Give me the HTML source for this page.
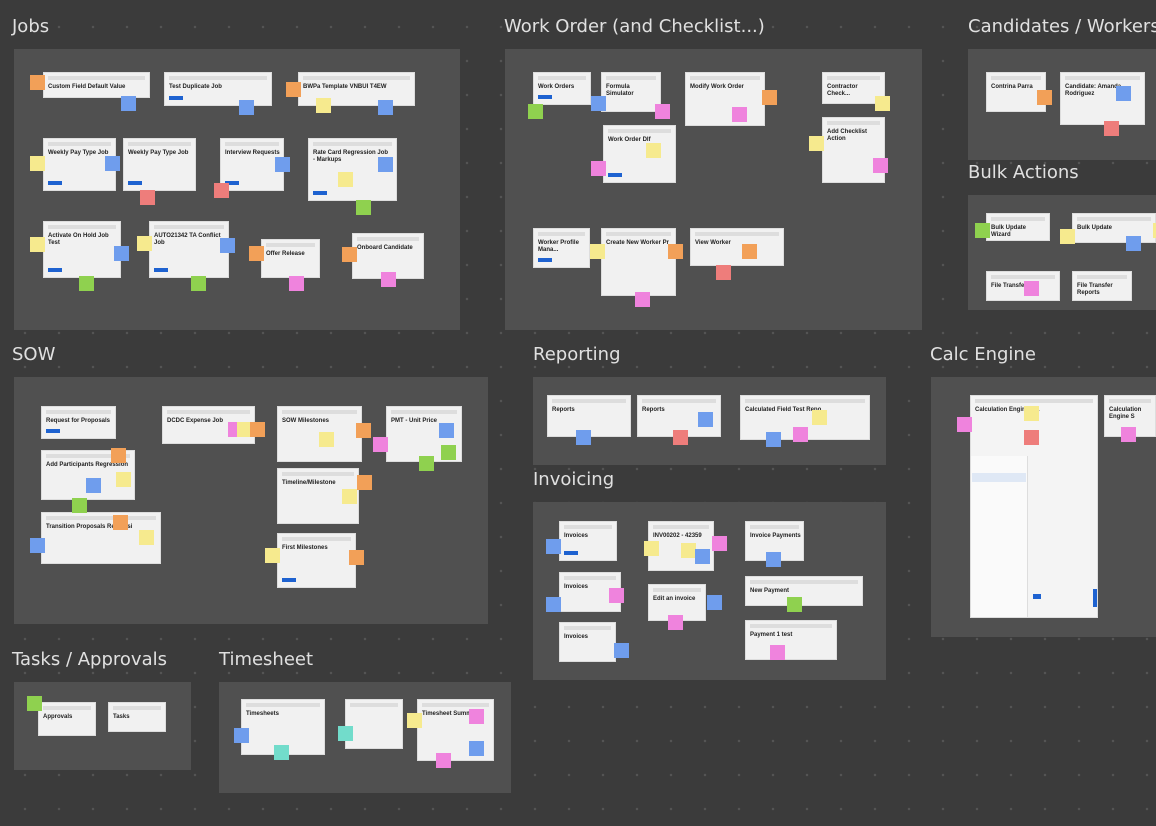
<!DOCTYPE html>
<html><head><meta charset="utf-8"><style>
body{margin:0;width:1156px;height:826px;overflow:hidden;background:#3b3b3b;
background-image:radial-gradient(circle,#555 1px,transparent 1.5px);background-size:34px 34px;background-position:8px 10px;
font-family:"Liberation Sans",sans-serif;position:relative}
.p{position:absolute;background:#505050}
.t{position:absolute;color:#e0e0e0;font-size:18px;font-family:"DejaVu Sans","Liberation Sans",sans-serif;white-space:nowrap}
.c{position:absolute;background:#f1f1f1;overflow:hidden;border:1px solid #ddd;box-sizing:border-box}
.c:before{content:"";position:absolute;left:4px;right:4px;top:3px;height:4px;background:#ddd}
.c b{position:absolute;left:4px;top:11px;font-size:6px;color:#222;line-height:7px;width:90%}
.c i{position:absolute;left:4px;bottom:5px;width:14px;height:4px;background:#1e62d0}
.n{position:absolute;width:15px;height:15px}
.o{background:#f2a058}.b{background:#6f9ded}.y{background:#f6ea8e}.k{background:#ef83dd}.g{background:#8fd14f}.r{background:#ee7d7b}.q{background:#72dccb}
</style></head><body>
<div class="t" style="left:12px;top:16px">Jobs</div>
<div class="t" style="left:504px;top:16px">Work Order (and Checklist...)</div>
<div class="t" style="left:968px;top:16px">Candidates / Workers</div>
<div class="t" style="left:968px;top:162px">Bulk Actions</div>
<div class="t" style="left:12px;top:344px">SOW</div>
<div class="t" style="left:533px;top:344px">Reporting</div>
<div class="t" style="left:533px;top:469px">Invoicing</div>
<div class="t" style="left:930px;top:344px">Calc Engine</div>
<div class="t" style="left:12px;top:649px">Tasks / Approvals</div>
<div class="t" style="left:219px;top:649px">Timesheet</div>

<div class="p" style="left:14px;top:49px;width:446px;height:281px"></div>
<div class="p" style="left:505px;top:49px;width:417px;height:281px"></div>
<div class="p" style="left:968px;top:49px;width:188px;height:111px"></div>
<div class="p" style="left:968px;top:195px;width:188px;height:115px"></div>
<div class="p" style="left:14px;top:377px;width:474px;height:247px"></div>
<div class="p" style="left:533px;top:377px;width:353px;height:88px"></div>
<div class="p" style="left:533px;top:502px;width:353px;height:178px"></div>
<div class="p" style="left:931px;top:377px;width:225px;height:260px"></div>
<div class="p" style="left:14px;top:682px;width:177px;height:88px"></div>
<div class="p" style="left:219px;top:682px;width:292px;height:111px"></div>

<!-- Jobs cards -->
<div class="c" style="left:43px;top:72px;width:107px;height:26px"><b>Custom Field Default Value</b></div>
<div class="c" style="left:164px;top:72px;width:108px;height:34px"><b>Test Duplicate Job</b><i></i></div>
<div class="c" style="left:298px;top:72px;width:117px;height:34px"><b>BWPa Template VNBUI T4EW</b></div>
<div class="c" style="left:43px;top:138px;width:73px;height:53px"><b>Weekly Pay Type Job</b><i></i></div>
<div class="c" style="left:123px;top:138px;width:73px;height:53px"><b>Weekly Pay Type Job</b><i></i></div>
<div class="c" style="left:220px;top:138px;width:64px;height:53px"><b>Interview Requests</b><i></i></div>
<div class="c" style="left:308px;top:138px;width:89px;height:63px"><b>Rate Card Regression Job - Markups</b><i></i></div>
<div class="c" style="left:43px;top:221px;width:78px;height:57px"><b>Activate On Hold Job Test</b><i></i></div>
<div class="c" style="left:149px;top:221px;width:80px;height:57px"><b>AUTO21342 TA Conflict Job</b><i></i></div>
<div class="c" style="left:261px;top:239px;width:59px;height:39px"><b>Offer Release</b></div>
<div class="c" style="left:352px;top:233px;width:72px;height:46px"><b>Onboard Candidate</b></div>
<div class="n o" style="left:30px;top:75px"></div><div class="n b" style="left:121px;top:96px"></div><div class="n b" style="left:239px;top:100px"></div><div class="n o" style="left:286px;top:82px"></div><div class="n y" style="left:316px;top:98px"></div><div class="n b" style="left:378px;top:100px"></div>
<div class="n y" style="left:30px;top:156px"></div><div class="n b" style="left:105px;top:156px"></div><div class="n r" style="left:140px;top:190px"></div><div class="n r" style="left:214px;top:183px"></div><div class="n b" style="left:275px;top:157px"></div><div class="n b" style="left:378px;top:157px"></div><div class="n y" style="left:338px;top:172px"></div><div class="n g" style="left:356px;top:200px"></div>
<div class="n y" style="left:30px;top:237px"></div><div class="n b" style="left:114px;top:246px"></div><div class="n g" style="left:79px;top:276px"></div><div class="n y" style="left:137px;top:236px"></div><div class="n b" style="left:220px;top:238px"></div><div class="n g" style="left:191px;top:276px"></div><div class="n o" style="left:249px;top:246px"></div><div class="n k" style="left:289px;top:276px"></div><div class="n o" style="left:342px;top:247px"></div><div class="n k" style="left:381px;top:272px"></div>

<!-- Work order -->
<div class="c" style="left:533px;top:72px;width:58px;height:33px"><b>Work Orders</b><i></i></div>
<div class="c" style="left:601px;top:72px;width:60px;height:40px"><b>Formula Simulator</b></div>
<div class="c" style="left:685px;top:72px;width:80px;height:54px"><b>Modify Work Order</b></div>
<div class="c" style="left:822px;top:72px;width:63px;height:32px"><b>Contractor Check...</b></div>
<div class="c" style="left:603px;top:125px;width:73px;height:58px"><b>Work Order Dlf</b><i></i></div>
<div class="c" style="left:822px;top:117px;width:63px;height:66px"><b>Add Checklist Action</b></div>
<div class="c" style="left:533px;top:228px;width:57px;height:40px"><b>Worker Profile Mana...</b><i></i></div>
<div class="c" style="left:601px;top:228px;width:75px;height:68px"><b>Create New Worker Pr</b></div>
<div class="c" style="left:690px;top:228px;width:94px;height:38px"><b>View Worker</b></div>
<div class="n g" style="left:528px;top:104px"></div><div class="n b" style="left:591px;top:96px"></div><div class="n k" style="left:655px;top:104px"></div><div class="n o" style="left:762px;top:90px"></div><div class="n k" style="left:732px;top:107px"></div><div class="n y" style="left:875px;top:96px"></div>
<div class="n y" style="left:646px;top:143px"></div><div class="n k" style="left:591px;top:161px"></div><div class="n y" style="left:809px;top:136px"></div><div class="n k" style="left:873px;top:158px"></div>
<div class="n y" style="left:590px;top:244px"></div><div class="n o" style="left:668px;top:244px"></div><div class="n k" style="left:635px;top:292px"></div><div class="n o" style="left:742px;top:244px"></div><div class="n r" style="left:716px;top:265px"></div>

<!-- Candidates / Bulk -->
<div class="c" style="left:986px;top:72px;width:60px;height:40px"><b>Contrina Parra</b></div>
<div class="c" style="left:1060px;top:72px;width:85px;height:53px"><b>Candidate: Amanda Rodriguez</b></div>
<div class="n o" style="left:1037px;top:90px"></div><div class="n b" style="left:1116px;top:86px"></div><div class="n r" style="left:1104px;top:121px"></div>
<div class="c" style="left:986px;top:213px;width:64px;height:28px"><b>Bulk Update Wizard</b></div>
<div class="c" style="left:1072px;top:213px;width:84px;height:30px"><b>Bulk Update</b></div>
<div class="c" style="left:986px;top:271px;width:74px;height:30px"><b>File Transfer Re</b></div>
<div class="c" style="left:1072px;top:271px;width:60px;height:30px"><b>File Transfer Reports</b></div>
<div class="n g" style="left:975px;top:223px"></div><div class="n y" style="left:1060px;top:229px"></div><div class="n b" style="left:1126px;top:236px"></div><div class="n y" style="left:1153px;top:223px"></div><div class="n k" style="left:1024px;top:281px"></div>

<!-- SOW -->
<div class="c" style="left:41px;top:406px;width:75px;height:33px"><b>Request for Proposals</b><i></i></div>
<div class="c" style="left:162px;top:406px;width:93px;height:38px"><b>DCDC Expense Job</b></div>
<div class="c" style="left:277px;top:406px;width:85px;height:56px"><b>SOW Milestones</b></div>
<div class="c" style="left:386px;top:406px;width:76px;height:56px"><b>PMT - Unit Price</b></div>
<div class="c" style="left:41px;top:450px;width:94px;height:50px"><b>Add Participants Regression</b></div>
<div class="c" style="left:277px;top:468px;width:82px;height:56px"><b>Timeline/Milestone</b></div>
<div class="c" style="left:41px;top:512px;width:120px;height:52px"><b>Transition Proposals Regressi</b></div>
<div class="c" style="left:277px;top:533px;width:79px;height:55px"><b>First Milestones</b><i></i></div>
<div class="n k" style="left:228px;top:422px"></div><div class="n y" style="left:237px;top:422px"></div><div class="n o" style="left:250px;top:422px"></div><div class="n y" style="left:319px;top:432px"></div><div class="n o" style="left:356px;top:423px"></div><div class="n k" style="left:373px;top:437px"></div><div class="n b" style="left:439px;top:423px"></div><div class="n g" style="left:419px;top:456px"></div><div class="n g" style="left:441px;top:445px"></div>
<div class="n o" style="left:111px;top:448px"></div><div class="n y" style="left:116px;top:472px"></div><div class="n b" style="left:86px;top:478px"></div><div class="n g" style="left:72px;top:498px"></div>
<div class="n o" style="left:357px;top:475px"></div><div class="n y" style="left:342px;top:489px"></div>
<div class="n o" style="left:113px;top:515px"></div><div class="n y" style="left:139px;top:530px"></div><div class="n b" style="left:30px;top:538px"></div>
<div class="n y" style="left:265px;top:548px"></div><div class="n o" style="left:349px;top:550px"></div>

<!-- Reporting -->
<div class="c" style="left:547px;top:395px;width:84px;height:42px"><b>Reports</b></div>
<div class="c" style="left:637px;top:395px;width:84px;height:42px"><b>Reports</b></div>
<div class="c" style="left:740px;top:395px;width:130px;height:45px"><b>Calculated Field Test Repo</b></div>
<div class="n b" style="left:576px;top:430px"></div><div class="n r" style="left:673px;top:430px"></div><div class="n b" style="left:698px;top:412px"></div><div class="n y" style="left:812px;top:410px"></div><div class="n b" style="left:766px;top:432px"></div><div class="n k" style="left:793px;top:427px"></div>

<!-- Invoicing -->
<div class="c" style="left:559px;top:521px;width:58px;height:40px"><b>Invoices</b><i></i></div>
<div class="c" style="left:648px;top:521px;width:66px;height:50px"><b>INV00202 - 42359</b></div>
<div class="c" style="left:745px;top:521px;width:59px;height:40px"><b>Invoice Payments</b></div>
<div class="c" style="left:559px;top:572px;width:62px;height:40px"><b>Invoices</b></div>
<div class="c" style="left:648px;top:584px;width:58px;height:37px"><b>Edit an invoice</b></div>
<div class="c" style="left:745px;top:576px;width:118px;height:30px"><b>New Payment</b></div>
<div class="c" style="left:559px;top:622px;width:57px;height:40px"><b>Invoices</b></div>
<div class="c" style="left:745px;top:620px;width:92px;height:40px"><b>Payment 1 test</b></div>
<div class="n b" style="left:546px;top:539px"></div><div class="n y" style="left:644px;top:541px"></div><div class="n y" style="left:681px;top:543px"></div><div class="n k" style="left:712px;top:536px"></div><div class="n b" style="left:695px;top:549px"></div><div class="n b" style="left:766px;top:552px"></div><div class="n b" style="left:546px;top:597px"></div><div class="n k" style="left:609px;top:588px"></div><div class="n b" style="left:707px;top:595px"></div><div class="n g" style="left:787px;top:597px"></div><div class="n b" style="left:614px;top:643px"></div><div class="n k" style="left:668px;top:615px"></div><div class="n k" style="left:770px;top:645px"></div>

<!-- Calc engine -->
<div class="c" style="left:970px;top:395px;width:128px;height:223px;background:#f4f4f4"><b>Calculation Engine S...</b>
<div style="position:absolute;left:0;top:60px;width:56px;height:163px;background:#fafafa;border-right:1px solid #ddd"></div>
<div style="position:absolute;left:1px;top:77px;width:54px;height:9px;background:#dfe8f5"></div>
<div style="position:absolute;left:62px;bottom:18px;width:8px;height:5px;background:#1e62d0"></div>
<div style="position:absolute;right:0;bottom:10px;width:4px;height:18px;background:#1e62d0"></div></div>
<div class="c" style="left:1104px;top:395px;width:52px;height:42px"><b>Calculation Engine S</b></div>
<div class="n k" style="left:957px;top:417px"></div><div class="n y" style="left:1024px;top:406px"></div><div class="n r" style="left:1024px;top:430px"></div><div class="n k" style="left:1121px;top:427px"></div>

<!-- Tasks -->
<div class="c" style="left:38px;top:702px;width:58px;height:34px"><b>Approvals</b></div>
<div class="c" style="left:108px;top:702px;width:58px;height:30px"><b>Tasks</b></div>
<div class="n g" style="left:27px;top:696px"></div>

<!-- Timesheet -->
<div class="c" style="left:241px;top:699px;width:84px;height:56px"><b>Timesheets</b></div>
<div class="c" style="left:345px;top:699px;width:58px;height:50px"><b></b></div>
<div class="c" style="left:417px;top:699px;width:77px;height:62px"><b>Timesheet Summary</b></div>
<div class="n b" style="left:234px;top:728px"></div><div class="n q" style="left:274px;top:745px"></div><div class="n q" style="left:338px;top:726px"></div><div class="n y" style="left:407px;top:713px"></div><div class="n k" style="left:469px;top:709px"></div><div class="n b" style="left:469px;top:741px"></div><div class="n k" style="left:436px;top:753px"></div>
</body></html>
